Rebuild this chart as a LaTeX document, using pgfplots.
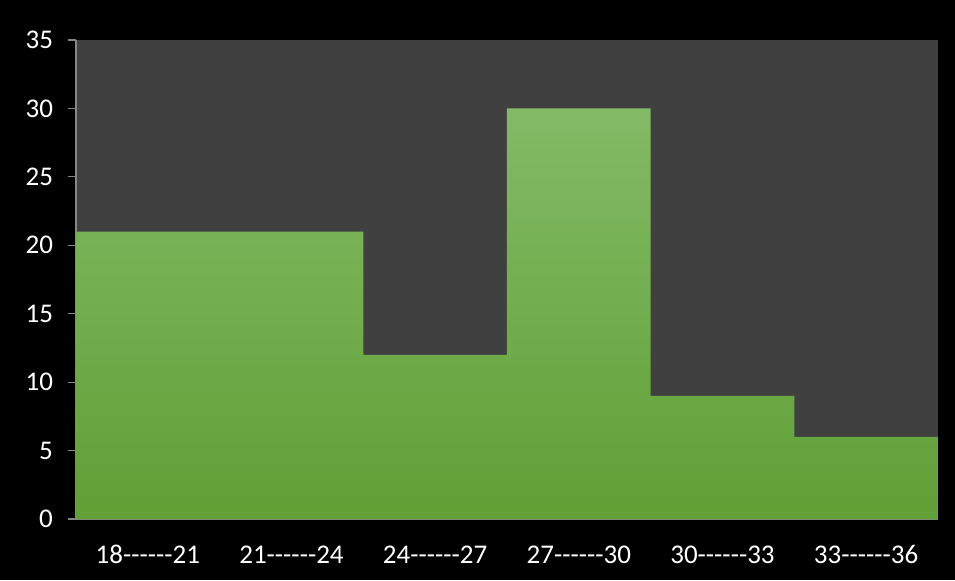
\documentclass[border=0pt]{standalone}
\usepackage{pgfplots}
\pgfplotsset{compat=1.18}
\usepackage{fontspec}
\setmainfont{Carlito}
\definecolor{plotbg}{HTML}{404040}
\definecolor{axgray}{HTML}{868686}
\definecolor{gtop}{HTML}{83BA66}
\definecolor{gmid}{HTML}{6FB142}
\definecolor{gbot}{HTML}{60A035}
\begin{document}
\begin{tikzpicture}[x=0.5pt,y=0.5pt]
\fill[black] (0,0) rectangle (955,580);
\begin{axis}[
  at={(38pt,30.5pt)}, anchor=south west,
  scale only axis, width=431pt, height=239.5pt,
  xmin=0, xmax=6, ymin=0, ymax=35,
  axis lines*=left,
  axis line style={axgray, line width=0.6pt},
  axis background/.style={fill=plotbg},
  ytick={0,5,...,35},
  xtick={0.5,1.5,...,5.5},
  xticklabels={{18-{}-{}-{}-{}-{}-21},{21-{}-{}-{}-{}-{}-24},{24-{}-{}-{}-{}-{}-27},{27-{}-{}-{}-{}-{}-30},{30-{}-{}-{}-{}-{}-33},{33-{}-{}-{}-{}-{}-36}},
  tick style={axgray, line width=0.6pt},
  xtick style={draw=none},
  tick align=outside,
  major tick length=4pt,
  ticklabel style={white, font=\fontsize{13.5}{16}\selectfont},
  /pgf/number format/assume math mode=true,
  yticklabel style={xshift=-4pt},
  xticklabel style={anchor=north, text height=9.5pt, text depth=2pt, yshift=-5pt},
  ybar, bar width=1, bar shift=0,
]
\addplot[draw=none, top color=gtop, middle color=gmid, bottom color=gbot] coordinates {
(0.5,21) (1.5,21) (2.5,12) (3.5,30) (4.5,9) (5.5,6)};
\end{axis}
\end{tikzpicture}
\end{document}
